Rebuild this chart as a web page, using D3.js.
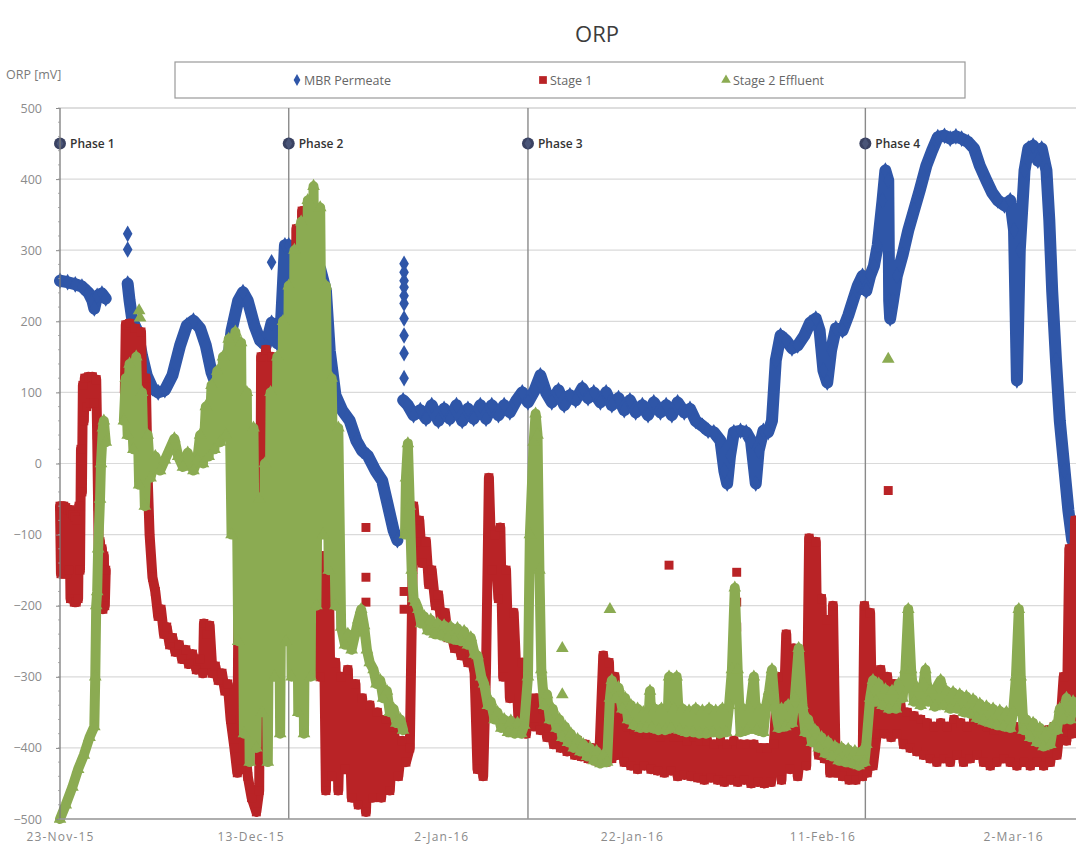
<!DOCTYPE html>
<html>
<head>
<meta charset="utf-8">
<script src="https://cdn.jsdelivr.net/npm/d3@7"></script>
<style>
  body { margin: 0; background: #fff; }
  svg { display: block; }
  text { font-family: "Open Sans", "DejaVu Sans", sans-serif; }
</style>
</head>
<body>
<svg id="chart" width="1076" height="849"></svg>
<script>
// ---------- data (days since 23-Nov-2015, ORP in mV) ----------
const startDate = Date.UTC(2015, 10, 23);
const tickDays = [0, 20, 40, 60, 80, 100];
const yTicks = [500, 400, 300, 200, 100, 0, -100, -200, -300, -400, -500];
const seriesNames = ["MBR Permeate", "Stage 1", "Stage 2 Effluent"];
const seriesColors = ["#2f56a8", "#b92326", "#8bab52"];

const phaseNames = ["Phase 1", "Phase 2", "Phase 3", "Phase 4"];
const phaseDays = [0, 24, 49.1, 84.5];
const phaseLevel = 450;

const mbrPermeate = [
  [0,257],[0.8,255],[1.6,252],[2.3,249],[3.0,240],[3.4,229],[3.6,218],[3.9,236],[4.4,239],[4.8,232],null,
  [7.1,253],[7.3,229],[7.6,201],[8.1,187],[8.6,152],[9.1,124],[9.7,106],[10.3,100],[11.0,103],[11.8,124],
  [12.6,166],[13.3,194],[14.0,201],[14.7,190],[15.3,166],[15.9,128],[16.6,103],[17.0,96],[17.4,117],[18.0,187],
  [18.7,229],[19.2,241],[19.7,229],[20.4,194],[21.0,173],[21.6,166],[22.2,198],[22.8,169],[23.2,201],[23.6,307],
  [24.0,307],[24.3,243],[24.8,187],[25.7,229],[26.4,250],[27.3,274],[27.9,243],[28.3,159],[28.9,96],[29.6,75],
  [30.4,60],[31.1,32],[31.7,18],[32.3,11],[33.1,-10],[33.8,-24],[34.4,-59],[35.0,-94],[35.4,-108],null,
  [36.0,89],[36.5,82],[37.1,68],[37.8,75],[38.4,63],[39.0,82],[39.7,60],[40.3,77],[40.9,63],[41.6,82],
  [42.2,60],[42.8,77],[43.4,63],[44.1,82],[44.7,63],[45.3,82],[46.0,68],[46.6,82],[47.2,72],[47.9,89],
  [48.5,100],[49.1,86],[49.8,103],[50.4,124],[51.0,100],[51.6,86],[52.3,103],[52.9,82],[53.5,96],[54.1,89],
  [54.8,106],[55.4,92],[56.0,100],[56.7,86],[57.3,100],[57.9,82],[58.6,92],[59.2,75],[59.8,89],[60.4,72],
  [61.1,82],[61.7,68],[62.3,86],[63.0,72],[63.6,82],[64.2,68],[64.8,86],[65.5,72],[66.1,77],[66.7,60],
  [67.4,53],[68.0,46],[68.6,44],[69.3,32],[69.7,-10],[70.0,-28],[70.3,11],[70.7,44],[71.4,46],[72.0,44],
  [72.5,32],[73.0,-28],[73.3,18],[73.8,46],[74.3,44],[74.7,60],[75.1,145],[75.6,180],[76.2,173],[76.8,162],
  [77.4,166],[78.1,180],[78.7,198],[79.3,204],[79.7,187],[80.1,131],[80.5,114],[80.9,159],[81.4,190],[82.1,187],
  [82.7,208],[83.2,229],[83.7,250],[84.2,264],[84.6,243],[85.0,264],[85.4,278],[85.8,307],[86.3,370],[86.6,412],
  [86.9,398],[87.0,229],[87.1,204],[87.4,229],[87.8,264],[88.4,293],[89.0,328],[89.6,356],[90.2,384],[90.9,419],
  [91.5,440],[92.1,459],[92.8,461],[93.4,457],[94.0,460],[94.6,457],[95.3,452],[95.9,443],[96.5,419],[97.2,398],
  [97.8,381],[98.4,370],[99.1,363],[99.7,370],[100.1,328],[100.4,117],[100.7,300],[101.2,412],[101.6,443],[102.1,447],
  [102.6,426],[103.0,443],[103.5,412],[103.8,342],[104.1,243],[104.5,145],[104.9,60],[105.4,-10],[105.8,-66],[106.2,-108]
];

const stage1 = [
  [0.0,-60],[0.1,-155],[0.2,-60],[0.3,-155],[0.4,-60],[0.5,-155],[0.6,-62],[0.7,-155],[0.8,-65],[0.9,-150],
  [1.0,-65],[1.1,-190],[1.2,-70],[1.3,-190],[1.4,-72],[1.5,-195],[1.6,-75],[1.7,-195],[1.8,-80],[1.9,-190],
  [2.0,-60],[2.1,-150],[2.2,20],[2.3,-40],[2.4,110],[2.5,60],[2.6,120],[2.8,80],[3.0,122],[3.2,85],
  [3.4,122],[3.6,85],[3.8,118],[3.9,40],[4.0,-60],[4.1,-170],[4.2,-110],[4.3,-200],[4.4,-120],[4.5,-205],
  [4.6,-130],[4.7,-200],[4.8,-150],null,
  [6.8,100],[6.9,195],[7.1,110],[7.3,197],[7.6,100],[7.9,190],[8.2,90],[8.5,185],[8.7,60],[9.0,120],
  [9.2,-20],[9.4,-100],[9.7,-160],[10.0,-180],[10.3,-215],[10.6,-205],[10.9,-240],[11.2,-230],[11.5,-255],[11.8,-245],
  [12.1,-265],[12.5,-255],[12.8,-275],[13.2,-262],[13.5,-282],[13.9,-268],[14.3,-290],[14.7,-275],[15.0,-295],[15.1,-225],
  [15.4,-240],[15.7,-228],[16.0,-295],[16.3,-285],[16.6,-305],[17.0,-295],[17.3,-320],[17.6,-310],[17.9,-360],[18.3,-400],
  [18.6,-435],[18.8,-30],[19.0,-430],[19.3,-380],[19.7,-440],[20.1,-470],[20.6,-490],[20.9,-460],[21.1,150],[21.4,-350],
  [21.6,160],[21.9,-200],[22.2,150],[22.6,-100],[22.9,130],[23.2,-250],[23.5,170],[23.8,-150],[24.1,200],[24.5,-200],
  [24.8,330],[25.1,-250],[25.4,355],[25.7,-150],[25.9,300],[26.1,-100],[26.4,-250],[26.9,-120],[27.3,-300],[27.6,-130],
  [27.9,-460],[28.2,-150],[28.5,-440],[28.9,-280],[29.2,-460],[29.5,-300],[29.9,-430],[30.2,-290],[30.6,-470],[31.0,-310],
  [31.3,-480],[31.7,-330],[32.1,-490],[32.5,-340],[32.8,-470],[33.3,-350],[33.7,-470],[34.2,-360],[34.6,-460],[35.0,-370],
  [35.5,-440],[35.9,-390],[36.3,-420],[36.7,-400],[37.1,-60],[37.4,-110],[37.7,-80],[38.0,-140],[38.4,-110],[38.7,-170],
  [39.0,-150],[39.4,-200],[39.7,-185],[40.0,-225],[40.4,-210],[40.7,-245],[41.0,-235],[41.4,-260],[41.7,-245],[42.1,-270],
  [42.4,-255],[42.8,-280],[43.1,-265],[43.5,-295],[43.8,-430],[44.1,-300],[44.4,-440],[44.7,-290],[45.0,-20],[45.3,-150],
  [45.6,-100],[46.0,-190],[46.2,-90],[46.5,-300],[46.8,-150],[47.2,-330],[47.6,-210],[48.1,-360],[48.5,-280],[48.9,-380],
  [49.3,-330],[49.7,-370],[50.0,-330],[50.4,-375],[50.7,-345],[51.1,-385],[51.4,-360],[51.8,-395],[52.1,-375],[52.5,-400],
  [52.9,-380],[53.2,-405],[53.6,-385],[54.0,-410],[54.3,-390],[54.7,-412],[55.1,-395],[55.4,-415],[55.8,-400],[56.2,-418],
  [56.6,-405],[57.0,-270],[57.3,-420],[57.6,-280],[57.9,-415],[58.2,-300],[58.5,-410],[58.8,-340],[59.2,-420],[59.5,-370],
  [59.9,-425],[60.2,-375],[60.6,-430],[60.9,-378],[61.3,-425],[61.6,-380],[62.0,-430],[62.3,-380],[62.7,-432],[63.0,-385],
  [63.4,-435],[63.7,-380],[64.1,-432],[64.4,-385],[64.8,-440],[65.1,-385],[65.5,-438],[65.8,-390],[66.2,-440],[66.5,-385],
  [66.9,-442],[67.2,-390],[67.6,-445],[67.9,-390],[68.3,-442],[68.6,-395],[69.0,-445],[69.3,-390],[69.7,-448],[70.0,-395],
  [70.4,-445],[70.7,-390],[71.1,-448],[71.4,-395],[71.8,-445],[72.1,-395],[72.5,-450],[72.8,-395],[73.2,-448],[73.5,-400],
  [73.9,-450],[74.2,-400],[74.6,-448],[74.9,-395],[75.3,-300],[75.7,-445],[76.2,-240],[76.6,-430],[77.0,-260],[77.4,-440],
  [77.9,-380],[78.3,-425],[78.6,-105],[79.0,-390],[79.3,-110],[79.6,-410],[79.9,-190],[80.2,-415],[80.5,-220],[80.8,-435],
  [81.1,-200],[81.4,-435],[81.8,-400],[82.1,-440],[82.5,-405],[82.8,-445],[83.1,-410],[83.5,-445],[83.8,-415],[84.2,-440],
  [84.4,-200],[84.7,-435],[85.0,-210],[85.3,-425],[85.7,-380],[86.1,-290],[86.5,-380],[86.8,-300],[87.2,-385],[87.5,-310],
  [87.8,-380],[88.2,-340],[88.5,-395],[88.9,-350],[89.2,-400],[89.6,-355],[89.9,-405],[90.3,-360],[90.6,-410],[91.0,-365],
  [91.3,-415],[91.7,-370],[92.0,-420],[92.4,-365],[92.7,-415],[93.1,-370],[93.4,-420],[93.8,-360],[94.1,-410],[94.5,-365],
  [94.8,-420],[95.2,-370],[95.5,-415],[95.9,-360],[96.2,-410],[96.6,-365],[96.9,-420],[97.3,-370],[97.6,-425],[98.0,-375],
  [98.3,-420],[98.7,-370],[99.0,-415],[99.4,-365],[99.7,-420],[100.1,-370],[100.4,-425],[100.8,-375],[101.1,-420],[101.5,-370],
  [101.8,-425],[102.2,-375],[102.5,-420],[102.9,-380],[103.2,-425],[103.6,-375],[103.9,-420],[104.3,-370],[104.6,-410],[105.0,-360],
  [105.3,-300],[105.6,-390],[105.9,-120],[106.2,-380],[106.5,-80]
];

const stage2Effluent = [
  [0,-500],[0.6,-480],[1.3,-455],[1.9,-430],[2.5,-410],[3.1,-385],[3.6,-370],[3.7,-300],[3.8,-200],[3.9,-180],
  [4.0,-120],[4.2,-50],[4.3,0],[4.5,50],[4.6,60],[4.8,30],null,
  [6.7,60],[6.9,120],[7.1,40],[7.3,140],[7.7,20],[8.0,150],[8.3,-30],[8.6,100],[8.9,-60],[9.2,40],
  [9.5,-20],[10.0,10],[10.5,-10],[11.0,5],[11.5,20],[12.0,35],[12.4,10],[12.9,-5],[13.4,15],[14.0,-10],
  [14.4,5],[14.7,40],[15.0,0],[15.3,80],[15.6,10],[15.9,110],[16.2,20],[16.5,130],[16.8,30],[17.1,150],
  [17.4,40],[17.7,175],[18.0,-100],[18.4,185],[18.7,-250],[19.0,170],[19.3,-380],[19.6,100],[19.9,-420],[20.3,50],
  [20.6,-400],[20.9,-50],[21.2,-350],[21.5,0],[21.8,-420],[22.1,100],[22.5,-300],[22.8,150],[23.1,-380],[23.4,200],
  [23.7,-250],[24.0,250],[24.3,-300],[24.6,300],[25.0,-350],[25.3,340],[25.6,-380],[26.0,370],[26.3,-300],[26.6,390],
  [26.9,-200],[27.3,360],[27.6,-100],[27.9,250],[28.2,-150],[28.5,120],[28.9,-200],[29.2,50],[29.5,-230],[29.9,-255],
  [30.2,-240],[30.6,-262],[31.0,-238],[31.3,-220],[31.6,-205],[31.9,-228],[32.2,-262],[32.5,-280],[32.9,-290],[33.2,-310],
  [33.6,-305],[33.9,-330],[34.3,-320],[34.6,-350],[35.0,-345],[35.3,-365],[35.7,-360],[36.0,-375],null,
  [36.2,-100],[36.3,-20],[36.5,28],[36.7,-60],[36.9,-150],[37.1,-190],[37.3,-195],[37.6,-205],[37.9,-225],[38.2,-215],
  [38.6,-235],[38.9,-220],[39.3,-240],[39.6,-225],[40.0,-242],[40.3,-228],[40.7,-245],[41.0,-230],[41.4,-248],[41.7,-232],
  [42.1,-250],[42.4,-236],[42.8,-255],[43.1,-245],[43.5,-268],[43.8,-270],[44.2,-300],[44.5,-310],[44.9,-340],[45.2,-335],
  [45.6,-360],[45.9,-350],[46.3,-372],[46.6,-360],[47.0,-378],[47.3,-362],[47.7,-380],[48.0,-365],[48.4,-380],[48.7,-368],
  [49.1,-300],[49.3,-100],[49.7,30],[49.9,70],[50.1,40],[50.3,-150],[50.5,-290],[50.8,-340],[51.1,-325],[51.4,-360],
  [51.7,-345],[52.1,-372],[52.4,-360],[52.7,-385],[53.0,-370],[53.3,-392],[53.6,-380],[53.9,-400],[54.3,-388],[54.6,-405],
  [54.9,-395],[55.3,-412],[55.6,-400],[56.0,-418],[56.3,-405],[56.7,-422],[57.0,-410],[57.4,-420],[57.7,-330],[57.9,-305],
  [58.3,-330],[58.6,-315],[59.0,-345],[59.3,-330],[59.6,-360],[59.9,-340],[60.2,-368],[60.6,-345],[60.9,-372],[61.2,-350],
  [61.5,-372],[61.8,-345],[61.9,-320],[62.1,-372],[62.4,-345],[62.8,-375],[63.1,-345],[63.5,-375],[63.8,-340],[63.9,-300],
  [64.1,-372],[64.4,-345],[64.7,-300],[65.0,-375],[65.3,-345],[65.7,-378],[66.0,-348],[66.4,-378],[66.7,-345],[67.1,-380],
  [67.4,-348],[67.8,-380],[68.1,-345],[68.5,-378],[68.8,-348],[69.2,-380],[69.5,-345],[69.9,-378],[70.2,-340],[70.5,-290],
  [70.8,-175],[71.1,-290],[71.4,-378],[71.7,-345],[72.1,-375],[72.4,-345],[72.8,-300],[73.1,-375],[73.4,-345],[73.8,-378],
  [74.1,-340],[74.4,-320],[74.7,-290],[75.0,-340],[75.4,-372],[75.7,-345],[76.1,-370],[76.4,-340],[76.8,-365],[77.1,-330],
  [77.5,-260],[77.9,-340],[78.2,-378],[78.5,-360],[78.9,-392],[79.2,-375],[79.6,-400],[79.9,-385],[80.3,-408],[80.6,-392],
  [81.0,-412],[81.3,-398],[81.7,-418],[82.0,-400],[82.4,-420],[82.7,-402],[83.1,-422],[83.4,-405],[83.8,-425],[84.1,-405],
  [84.4,-420],[84.6,-395],[85.0,-330],[85.3,-305],[85.6,-335],[85.9,-310],[86.3,-340],[86.6,-318],[87.0,-345],[87.3,-320],
  [87.7,-345],[88.0,-310],[88.4,-330],[88.7,-290],[89.0,-205],[89.3,-290],[89.6,-335],[89.9,-315],[90.3,-340],[90.6,-310],
  [90.8,-290],[91.1,-335],[91.4,-318],[91.8,-342],[92.1,-312],[92.4,-305],[92.7,-340],[93.0,-320],[93.4,-345],[93.7,-322],
  [94.1,-345],[94.4,-325],[94.8,-350],[95.1,-328],[95.5,-352],[95.8,-332],[96.2,-358],[96.5,-338],[96.9,-362],[97.2,-342],
  [97.6,-365],[97.9,-345],[98.3,-368],[98.6,-348],[99.0,-370],[99.3,-350],[99.7,-372],[100.0,-350],[100.3,-300],[100.6,-205],
  [100.8,-300],[101.1,-375],[101.4,-360],[101.8,-385],[102.1,-365],[102.5,-392],[102.8,-372],[103.2,-398],[103.5,-378],[103.9,-395],
  [104.2,-370],[104.6,-375],[104.9,-345],[105.3,-360],[105.6,-330],[106.0,-360],[106.3,-335],[106.6,-350]
];

// isolated readings away from the main trace of each series
const mbrOutliers = [[7.1,323],[7.1,301],[22.2,283],[36.1,281],[36.1,269],[36.1,257],[36.1,248],[36.1,236],[36.1,225],[36.1,204],[36.1,180],[36.1,155],[36.1,120]];
const stage1Outliers = [[32.1,-90],[32.1,-160],[32.1,-195],[36.1,-180],[36.1,-205],[63.9,-143],[71.0,-153],[71.0,-195],[71.0,-230],[86.9,-38]];
const stage2Outliers = [[8.3,215],[8.4,205],[52.7,-260],[52.7,-325],[57.7,-205],[86.9,147]];

// ---------- layout ----------
const svg = d3.select("#chart");
const plot = { left: 60, right: 1076, top: 108, bottom: 819 };

const x = d3.scaleLinear().domain([0, 106.6]).range([plot.left, plot.right]);
const y = d3.scaleLinear().domain([-500, 500]).range([plot.bottom, plot.top]);
const dayLabel = d => d3.utcFormat("%-d-%b-%y")(new Date(startDate + d * 864e5));

svg.append("rect").attr("width", 1076).attr("height", 849).attr("fill", "#fff");

// horizontal gridlines
svg.append("g").selectAll("line").data(yTicks).join("line")
  .attr("x1", plot.left).attr("x2", plot.right)
  .attr("y1", d => y(d)).attr("y2", d => y(d))
  .attr("stroke", d => d === 500 ? "#bdbdbd" : "#dadada").attr("stroke-width", 1.2);

// phase boundaries
svg.append("g").selectAll("line").data(phaseDays.slice(1)).join("line")
  .attr("x1", d => x(d)).attr("x2", d => x(d))
  .attr("y1", plot.top).attr("y2", plot.bottom)
  .attr("stroke", "#8a8a8a").attr("stroke-width", 1.4);

// phase markers and names
const phaseG = svg.append("g");
phaseG.selectAll("circle").data(phaseDays).join("circle")
  .attr("cx", d => x(d)).attr("cy", y(phaseLevel)).attr("r", 6)
  .attr("fill", "#3a4262");
phaseG.selectAll("path").data(phaseDays).join("path")
  .attr("transform", d => `translate(${x(d)},${y(phaseLevel)})`)
  .attr("d", d3.symbol().type(d3.symbolDiamond).size(40))
  .attr("fill", "#4a5578");
phaseG.selectAll("text").data(phaseNames).join("text")
  .attr("x", (d, i) => x(phaseDays[i]) + 10).attr("y", y(phaseLevel) + 4.5)
  .attr("font-size", 12).attr("font-weight", 600).attr("fill", "#333")
  .text(d => d);

// series traces
svg.append("clipPath").attr("id", "plotClip")
  .append("rect").attr("x", plot.left - 6).attr("y", plot.top - 6)
  .attr("width", plot.right - plot.left + 6).attr("height", plot.bottom - plot.top + 12);

const line = d3.line().defined(d => d !== null).x(d => x(d[0])).y(d => y(d[1]));

function drawSeries(data, outliers, color, width, type, size) {
  const g = svg.append("g").attr("clip-path", "url(#plotClip)");
  g.append("path").datum(data).attr("d", line)
    .attr("fill", "none").attr("stroke", color).attr("stroke-width", width)
    .attr("stroke-linejoin", "round").attr("stroke-linecap", "round");
  const pts = data.filter(d => d !== null).concat(outliers);
  g.selectAll("path.pt").data(pts).join("path").attr("class", "pt")
    .attr("transform", d => `translate(${x(d[0])},${y(d[1])})`)
    .attr("d", d3.symbol().type(type).size(size))
    .attr("fill", color);
}
drawSeries(mbrPermeate, mbrOutliers, seriesColors[0], 12, d3.symbolDiamond, 80);
drawSeries(stage1, stage1Outliers, seriesColors[1], 10, d3.symbolSquare, 80);
drawSeries(stage2Effluent, stage2Outliers, seriesColors[2], 10, d3.symbolTriangle, 70);

// axes
svg.append("line").attr("x1", plot.left).attr("x2", plot.left)
  .attr("y1", plot.top).attr("y2", plot.bottom).attr("stroke", "#7a7a7a").attr("stroke-width", 1.3);
svg.append("line").attr("x1", plot.left).attr("x2", plot.right)
  .attr("y1", plot.bottom).attr("y2", plot.bottom).attr("stroke", "#9a9a9a").attr("stroke-width", 1.3);

const yAxis = d3.axisLeft(y).tickValues(yTicks).tickSize(4).tickPadding(14).tickFormat(d3.format("d"));
const yg = svg.append("g").attr("transform", `translate(${plot.left},0)`).call(yAxis);
yg.select(".domain").remove();
yg.selectAll("line").attr("stroke", "#888");
yg.selectAll("text").attr("font-size", 12.5).attr("fill", "#8c8c8c")
  .attr("font-family", "'Open Sans', sans-serif");

// minor ticks on the value axis
svg.append("g").selectAll("line").data(d3.range(-500, 501, 20)).join("line")
  .attr("x1", plot.left - 2).attr("x2", plot.left)
  .attr("y1", d => y(d)).attr("y2", d => y(d))
  .attr("stroke", "#999").attr("stroke-width", 0.8);

const xAxis = d3.axisBottom(x).tickValues(tickDays).tickSize(0).tickPadding(13).tickFormat(dayLabel);
const xg = svg.append("g").attr("transform", `translate(0,${plot.bottom})`).call(xAxis);
xg.select(".domain").remove();
xg.selectAll("text").attr("font-size", 12).attr("fill", "#8a8a8a")
  .attr("letter-spacing", "1.2px").attr("font-family", "'Open Sans', sans-serif");

// axis title
svg.append("text").attr("x", 6).attr("y", 79)
  .attr("font-size", 12.5).attr("fill", "#7a7a7a").text("ORP [mV]");

// chart title
svg.append("text").attr("x", 597).attr("y", 42).attr("text-anchor", "middle")
  .attr("font-size", 22).attr("fill", "#3c3c3c").text("ORP");

// legend
const legend = svg.append("g");
legend.append("rect").attr("x", 175).attr("y", 62).attr("width", 790).attr("height", 36)
  .attr("fill", "#fff").attr("stroke", "#9a9a9a").attr("stroke-width", 1.2);
const legendX = [297, 543, 726];
const legendTypes = [d3.symbolDiamond, d3.symbolSquare, d3.symbolTriangle];
const legendSizes = [40, 60, 40];
seriesNames.forEach((name, i) => {
  legend.append("path")
    .attr("transform", `translate(${legendX[i]},80)`)
    .attr("d", d3.symbol().type(legendTypes[i]).size(legendSizes[i]))
    .attr("fill", seriesColors[i]);
  legend.append("text").attr("x", legendX[i] + 7).attr("y", 84.5)
    .attr("font-size", 12.5).attr("fill", "#666").text(name);
});
</script>
</body>
</html>
